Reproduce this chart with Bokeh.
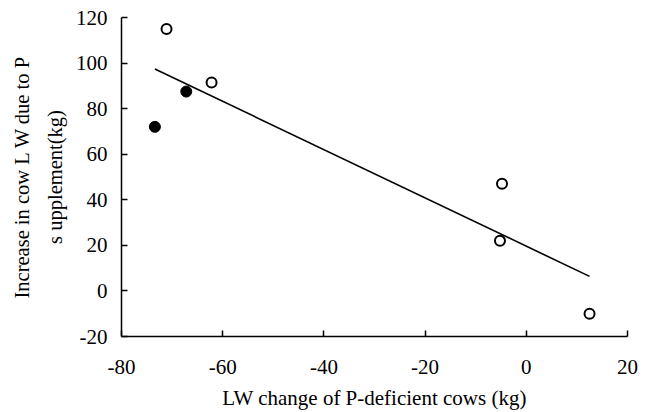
import numpy as np
from bokeh.plotting import figure
from bokeh.models import FixedTicker, Range1d, Title
from bokeh.embed import file_html
from bokeh.resources import INLINE

# Data
open_x = [-71.1, -62.2, -4.8, -5.2, 12.5]
open_y = [115.0, 91.5, 47.0, 22.0, -10.0]
filled_x = [-73.4, -67.2]
filled_y = [72.0, 87.5]

x_ticks = [-80, -60, -40, -20, 0, 20]
y_ticks = [-20, 0, 20, 40, 60, 80, 100, 120]
x_tick_labels = ["-80", "-60", "-40", "-20", "0", "20"]
y_tick_labels = ["-20", "0", "20", "40", "60", "80", "100", "120"]

x_label = "LW change of P-deficient cows (kg)"
y_label_lines = ["Increase in cow L W due to P", "s upplement(kg)"]

# regression line across all points
all_x = np.array(open_x + filled_x)
all_y = np.array(open_y + filled_y)
slope, intercept = np.polyfit(all_x, all_y, 1)
line_x = [all_x.min(), all_x.max()]
line_y = [slope * v + intercept for v in line_x]

FONT = "Liberation Serif"

p = figure(width=645, height=412, output_backend="svg", toolbar_location=None,
           x_range=Range1d(-80, 20), y_range=Range1d(-20, 120),
           min_border_left=121, min_border_right=18, min_border_top=17, min_border_bottom=76)
p.outline_line_color = None
p.xgrid.visible = False
p.ygrid.visible = False
p.background_fill_color = "white"

p.line(line_x, line_y, line_color="black", line_width=1.6)
p.scatter(open_x, open_y, size=10, fill_color="white", line_color="black", line_width=2)
p.scatter(filled_x, filled_y, size=11, fill_color="black", line_color="black", line_width=1)

for ax in (p.xaxis[0], p.yaxis[0]):
    ax.axis_line_color = "black"
    ax.axis_line_width = 1.5
    ax.major_tick_line_color = "black"
    ax.major_tick_line_width = 1.5
    ax.major_tick_in = 6
    ax.major_tick_out = 0
    ax.minor_tick_line_color = None
    ax.major_label_text_font = FONT
    ax.major_label_text_font_size = "21px"
    ax.major_label_text_color = "black"
    ax.axis_label_text_font = FONT
    ax.axis_label_text_font_style = "normal"
    ax.axis_label_text_color = "black"

p.xaxis[0].ticker = FixedTicker(ticks=x_ticks)
p.yaxis[0].ticker = FixedTicker(ticks=y_ticks)
p.xaxis[0].major_label_overrides = {t: s for t, s in zip(x_ticks, x_tick_labels)}
p.yaxis[0].major_label_overrides = {t: s for t, s in zip(y_ticks, y_tick_labels)}
p.xaxis[0].axis_label = x_label
p.xaxis[0].axis_label_text_font_size = "21px"
p.xaxis[0].major_label_standoff = 23
p.yaxis[0].major_label_standoff = 14
p.xaxis[0].axis_label_standoff = 9

# two-line rotated y-axis title (inner line added first)
for txt, so in zip(reversed(y_label_lines), [14, 3]):
    p.add_layout(Title(text=txt, align="center", offset=-8, standoff=so,
                       text_font=FONT, text_font_size="20.5px",
                       text_font_style="normal", text_color="black"), "left")

open("out.html", "w").write(file_html(p, INLINE))
